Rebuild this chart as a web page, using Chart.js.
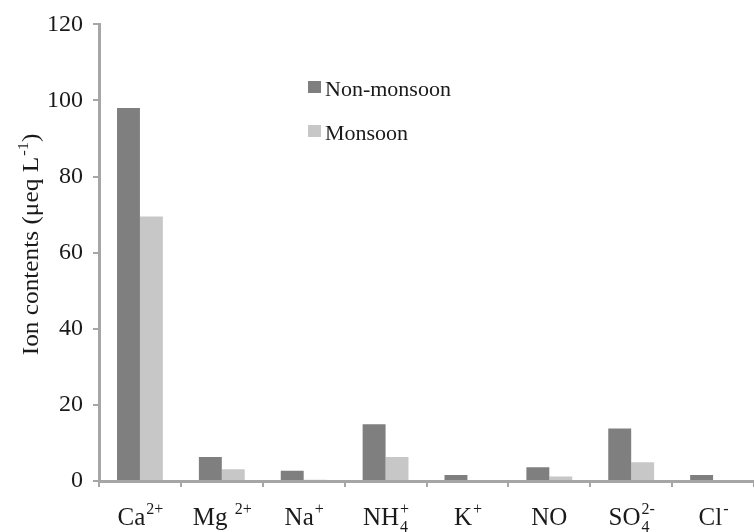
<!DOCTYPE html>
<html>
<head>
<meta charset="utf-8">
<script src="https://cdn.jsdelivr.net/npm/chart.js@4/dist/chart.umd.min.js"></script>
<style>
  html, body { margin: 0; padding: 0; background: #fff; }
  #wrap { width: 754px; height: 532px; }
</style>
</head>
<body>
<div id="wrap"><canvas id="ions"></canvas></div>
<script>
// ion names split so the sub/superscripts can be drawn small
var ionBase = ['Ca', 'Mg ', 'Na', 'NH', 'K', 'NO', 'SO', 'Cl'];
var ionSup  = ['2+', '2+', '+', '+', '+', '', '2-', '-'];
var ionSub  = ['', '', '', '4', '', '', '4', ''];
var ionLabels = ionBase.map(function (b, i) { return b.trim() + ionSub[i] + ionSup[i]; });

var nonMonsoon = [98, 6.3, 2.7, 14.9, 1.6, 3.6, 13.8, 1.6];
var monsoon    = [69.5, 3.1, 0.3, 6.3, 0, 1.2, 4.9, 0];

var yTicks = [0, 20, 40, 60, 80, 100, 120];

var FONT = "'Liberation Serif', 'Times New Roman', serif";
var axisGray = '#a6a6a6';

// draws base text with a stacked sup/sub, then optional tail, centred on x
function drawRich(ctx, x, y, base, sup, sub, tail, size, small) {
  ctx.font = size + 'px ' + FONT;
  var wb = ctx.measureText(base).width;
  var wt = tail ? ctx.measureText(tail).width : 0;
  ctx.font = small + 'px ' + FONT;
  var ws = Math.max(sup ? ctx.measureText(sup).width : 0, sub ? ctx.measureText(sub).width : 0);
  var total = wb + ws + wt;
  var x0 = x - total / 2;
  ctx.textAlign = 'left';
  ctx.textBaseline = 'alphabetic';
  ctx.font = size + 'px ' + FONT;
  ctx.fillText(base, x0, y);
  ctx.font = small + 'px ' + FONT;
  if (sup) ctx.fillText(sup, x0 + wb + 1, y - size * 0.45);
  if (sub) ctx.fillText(sub, x0 + wb + 1, y + size * 0.28);
  if (tail) {
    ctx.font = size + 'px ' + FONT;
    ctx.fillText(tail, x0 + wb + ws + 1, y);
  }
}

var labelPlugin = {
  id: 'ionLabels',
  afterDraw: function (chart) {
    var ctx = chart.ctx;
    var xs = chart.scales.x;
    ctx.save();
    ctx.fillStyle = '#1a1a1a';
    for (var i = 0; i < ionBase.length; i++) {
      var px = xs.getPixelForValue(i);
      drawRich(ctx, px, 525, ionBase[i], ionSup[i], ionSub[i], '', 25, 16);
    }

    // y axis title, rotated (a bit stretched along its length like the original)
    ctx.translate(32, 245);
    ctx.rotate(-Math.PI / 2);
    ctx.scale(1.1, 1);
    drawRich(ctx, 0, 6, 'Ion contents (\u03bceq L', '-1', '', ')', 23, 15);
    ctx.restore();

    // legend inside the plot
    ctx.save();
    var items = chart.data.datasets;
    var ly = [81, 125];
    for (var j = 0; j < items.length; j++) {
      ctx.fillStyle = items[j].backgroundColor;
      ctx.fillRect(308, ly[j], 13, 12);
      ctx.fillStyle = '#1a1a1a';
      ctx.font = '22px ' + FONT;
      ctx.textAlign = 'left';
      ctx.textBaseline = 'alphabetic';
      ctx.fillText(items[j].label, 325, ly[j] + 15);
    }
    ctx.restore();
  }
};

new Chart(document.getElementById('ions'), {
  type: 'bar',
  data: {
    labels: ionLabels,
    datasets: [{
      label: 'Non-monsoon',
      data: nonMonsoon,
      backgroundColor: '#7f7f7f',
      categoryPercentage: 0.56,
      barPercentage: 1.0
    }, {
      label: 'Monsoon',
      data: monsoon,
      backgroundColor: '#c6c7c6',
      categoryPercentage: 0.56,
      barPercentage: 1.0
    }]
  },
  options: {
    responsive: true,
    maintainAspectRatio: false,
    animation: false,
    layout: { padding: { top: 22, right: 0, bottom: 0, left: 0 } },
    plugins: {
      legend: { display: false },
      tooltip: { enabled: false }
    },
    scales: {
      x: {
        offset: true,
        grid: {
          offset: true,
          drawOnChartArea: false,
          drawTicks: true,
          tickLength: 6,
          color: axisGray,
          lineWidth: 2
        },
        border: { color: axisGray, width: 3 },
        ticks: { display: false },
        afterFit: function (s) { s.height = 51; }
      },
      y: {
        min: 0,
        max: 120,
        afterBuildTicks: function (s) { s.ticks = yTicks.map(function (v) { return { value: v }; }); },
        grid: {
          drawOnChartArea: false,
          drawTicks: true,
          tickLength: 6,
          color: axisGray,
          lineWidth: 2
        },
        border: { color: axisGray, width: 3 },
        ticks: {
          color: '#1a1a1a',
          padding: 10,
          font: { family: FONT, size: 24 }
        },
        afterFit: function (s) { s.width = 99; }
      }
    }
  },
  plugins: [labelPlugin]
});
</script>
</body>
</html>
